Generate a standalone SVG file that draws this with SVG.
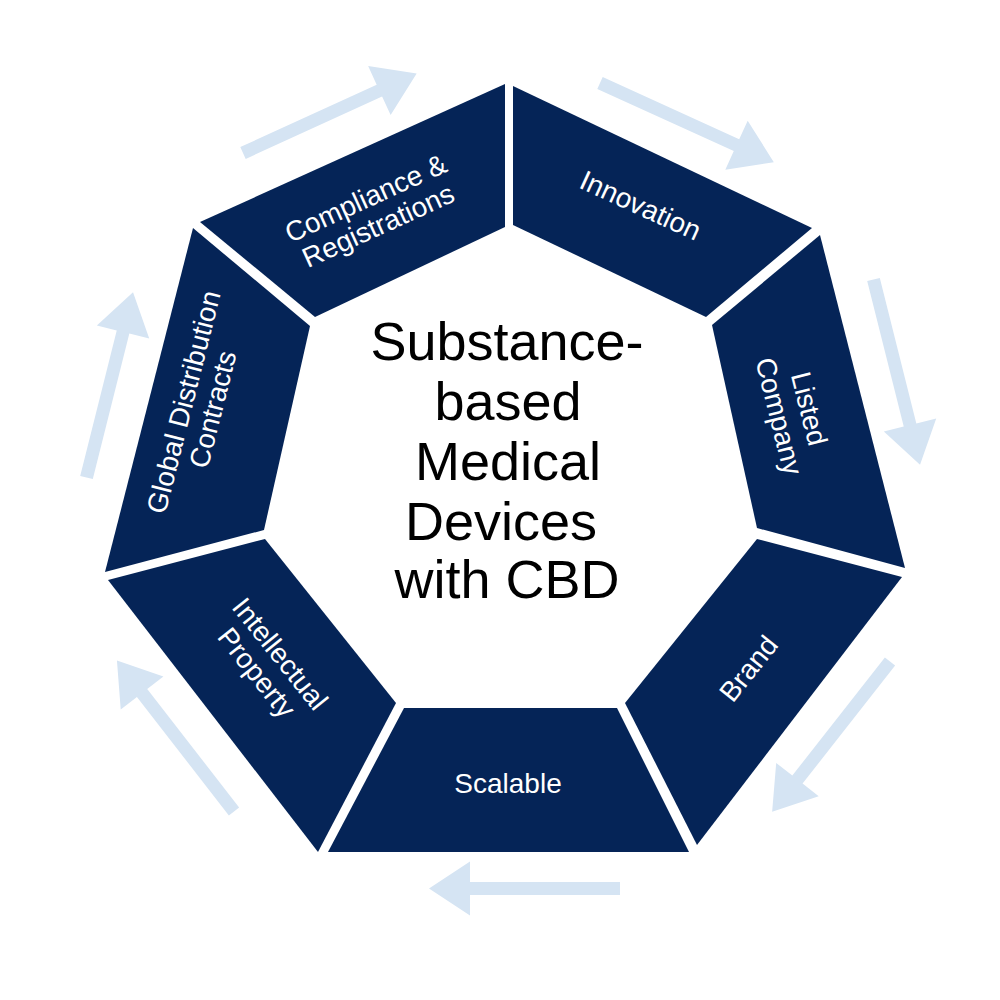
<svg xmlns="http://www.w3.org/2000/svg" width="1000" height="1000" viewBox="0 0 1000 1000">
<defs>
<style>
.seg{fill:#052457;}
.arr{fill:#d5e4f3;}
.lbl{fill:#ffffff;font-family:"Liberation Sans",Arial,Helvetica,sans-serif;font-size:28px;text-anchor:middle;}
.ctr{fill:#000000;font-family:"Liberation Sans",Arial,Helvetica,sans-serif;font-size:54px;text-anchor:middle;}
</style>
<polygon id="arrowShape" points="0,-6.5 150,-6.5 150,-27 191,0 150,27 150,6.5 0,6.5"/>
</defs>
<rect width="1000" height="1000" fill="#ffffff"/>
<g id="connectors">
<use href="#arrowShape" class="arr" transform="translate(243,153) rotate(-24.6)"/>
<use href="#arrowShape" class="arr" transform="translate(600,83) rotate(24.5)"/>
<use href="#arrowShape" class="arr" transform="translate(873.5,279.5) rotate(75.9)"/>
<use href="#arrowShape" class="arr" transform="translate(890,661.5) rotate(128.1)"/>
<use href="#arrowShape" class="arr" transform="translate(620,888.5) rotate(180)"/>
<use href="#arrowShape" class="arr" transform="translate(234,811.5) rotate(-127.8)"/>
<use href="#arrowShape" class="arr" transform="translate(86.5,477.5) rotate(-75.9)"/>
</g>
<g id="node-compliance">
<polygon class="seg" points="505,84 200,222 315,317 505,227"/>
<g transform="translate(372,212) rotate(-24.5)">
<text class="lbl" x="0" y="-5.5">Compliance &amp;</text>
<text class="lbl" x="0" y="24.5">Registrations</text>
</g>
</g>
<g id="node-innovation">
<polygon class="seg" points="513,86 812,228 706,317 513,225"/>
<text class="lbl" transform="translate(640.7,205) rotate(24.5)" x="0" y="10">Innovation</text>
</g>
<g id="node-listed">
<polygon class="seg" points="820,235 905,568 757,528 712,325"/>
<g transform="translate(794,412.5) rotate(75.9)">
<text class="lbl" x="0" y="-6">Listed</text>
<text class="lbl" x="0" y="25">Company</text>
</g>
</g>
<g id="node-brand">
<polygon class="seg" points="757,539 902,577 697,845 625,703"/>
<text class="lbl" transform="translate(748.3,668.3) rotate(-51.4)" x="0" y="10">Brand</text>
</g>
<g id="node-scalable">
<polygon class="seg" points="404,708 617,708 689,852 328,852"/>
<text class="lbl" x="508" y="793">Scalable</text>
</g>
<g id="node-ip">
<polygon class="seg" points="108,580 265,539 396,703 318,852"/>
<g transform="translate(268.3,663.3) rotate(51.4)">
<text class="lbl" x="0" y="-5.5">Intellectual</text>
<text class="lbl" x="0" y="24.5">Property</text>
</g>
</g>
<g id="node-global">
<polygon class="seg" points="193,228 310,326 264,530 105,572"/>
<g transform="translate(198.3,405.7) rotate(-75.9)">
<text class="lbl" x="0" y="-5.5">Global Distribution</text>
<text class="lbl" x="0" y="24.5">Contracts</text>
</g>
</g>
<g id="node-center">
<text class="ctr" x="507" y="360">Substance-</text>
<text class="ctr" x="508" y="420">based</text>
<text class="ctr" x="508" y="480">Medical</text>
<text class="ctr" x="501" y="540">Devices</text>
<text class="ctr" x="507" y="598">with CBD</text>
</g>
</svg>
